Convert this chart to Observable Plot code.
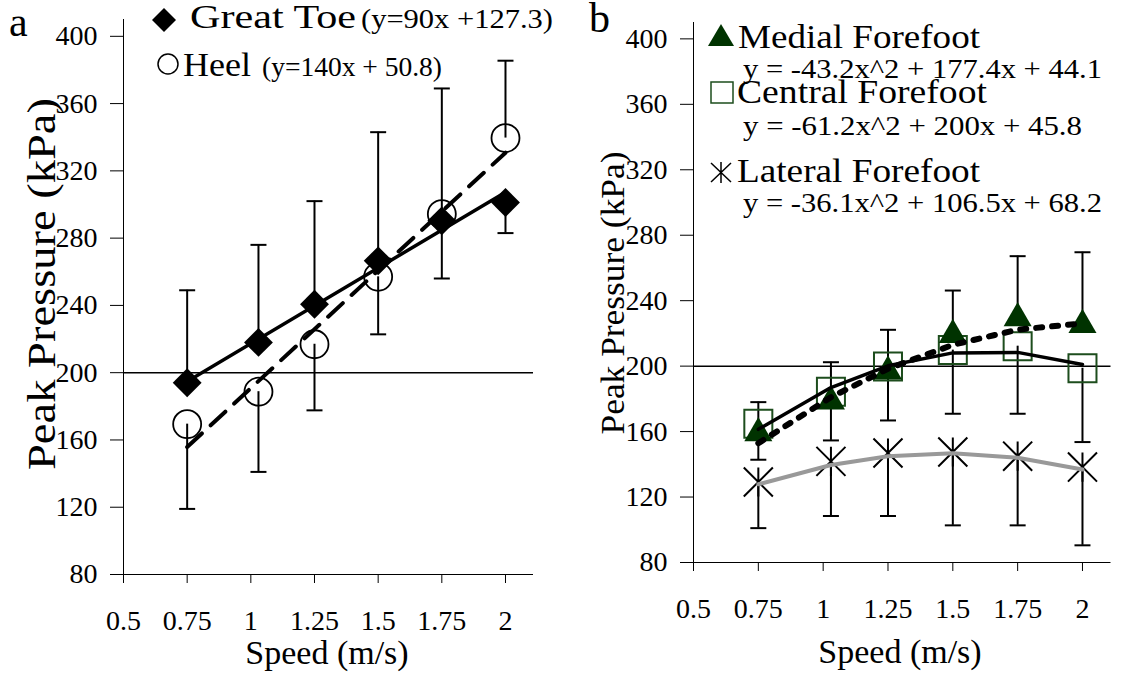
<!DOCTYPE html>
<html><head><meta charset="utf-8">
<script src="https://cdn.jsdelivr.net/npm/d3@7"></script>
<script src="https://cdn.jsdelivr.net/npm/@observablehq/plot@0.6"></script>
<style>
body{margin:0;background:#fff;}
#wrap{position:relative;width:1123px;height:675px;overflow:hidden;background:#fff;font-family:"Liberation Serif","Times New Roman",Times,"DejaVu Serif",serif;}
#wrap > svg{position:absolute;top:0;}
</style></head><body><div id="wrap"></div>
<script>
// ---------- data ----------
const speeds = [0.75, 1.03, 1.25, 1.5, 1.75, 2.0];
const xTicks = [0.5, 0.75, 1, 1.25, 1.5, 1.75, 2];
const yTicks = [80, 120, 160, 200, 240, 280, 320, 360, 400];

// panel a
const greatToe    = [194, 218, 240.7, 266.5, 290.3, 301.2];
const greatToeErr = [249, 276, 302, 343, 369, 283];
const heel        = [169.4, 188.7, 216.9, 257, 294.3, 339.5];
const heelErr     = [119, 141, 177.6, 222.8, 256, 385.5];
const trendSpeedsA  = [0.75, 2.0];
const greatToeTrend = [194.8, 307.3];
const heelTrend     = [155.8, 330.8];

// panel b
const medial      = [156.6, 176, 194.3, 216.7, 226.9, 222.8];
const medialErr   = [142.8, 154.6, 166.8, 246.2, 267.2, 269.6];
const central     = [164.8, 184.3, 199.8, 209.8, 212.2, 198.7];
const centralErr  = [178, 202.4, 222.2, 170.9, 170.9, 153.6];
const lateral     = [129.2, 141.8, 146.9, 147.5, 145, 138.3];
const lateralErr  = [101, 108.4, 108.4, 102.7, 102.7, 90.5];
const medialTrend  = [152.9, 181, 198.4, 213, 222.3, 226.1];
const centralTrend = [161.4, 186.9, 200.2, 208.1, 208.4, 201];
const lateralTrend = [127.8, 139.6, 144.9, 146.7, 144, 136.8];

// ---------- helpers ----------
const FONT = '"Liberation Serif","Times New Roman",Times,"DejaVu Serif",serif';
const rows = (xs, ys, errs) => xs.map((x, i) => ({x, y: ys[i], e: errs ? errs[i] : null}));
const capSym = {draw(ctx) { ctx.moveTo(-8, 0); ctx.lineTo(8, 0); }};
const starSym = {draw(ctx, size) {
  const r = Math.sqrt(size) / 2;
  ctx.moveTo(-r, -r); ctx.lineTo(r, r);
  ctx.moveTo(-r, r); ctx.lineTo(r, -r);
  ctx.moveTo(0, -r); ctx.lineTo(0, r);
}};

function errMarks(data) {
  return [
    Plot.ruleX(data, {x: "x", y1: "y", y2: "e", stroke: "#000", strokeWidth: 2}),
    Plot.dot(data, {x: "x", y: "e", symbol: capSym, r: 5, fill: "none", stroke: "#000", strokeWidth: 2})
  ];
}

function frame(opts, marks) {
  return Plot.plot({
    width: 560, height: 675,
    marginLeft: opts.ml, marginRight: opts.mr, marginTop: opts.mt, marginBottom: opts.mb,
    x: {type: "linear", domain: [0.5, 2.11]},
    y: {type: "linear", domain: [80, 410]},
    style: {fontFamily: FONT, fontSize: "28px", color: "#000", background: "transparent"},
    marks: [
      Plot.ruleY([200], {stroke: "#000", strokeWidth: 1.5}),
      Plot.ruleX([0.5], {stroke: "#000", strokeWidth: 1}),
      Plot.ruleY([80], {stroke: "#000", strokeWidth: 1}),
      Plot.axisX({ticks: xTicks, tickSize: 9, tickPadding: 27, tickFormat: d => String(d), label: null, fontSize: 28, fontFamily: FONT, strokeWidth: 1}),
      Plot.axisY({ticks: yTicks, tickSize: 13, tickPadding: 13, tickFormat: d => String(d), label: null, fontSize: 28, fontFamily: FONT, strokeWidth: 1}),
      ...marks
    ]
  });
}

const wrap = document.getElementById("wrap");

// ---------- panel a ----------
const toeD = rows(speeds, greatToe, greatToeErr);
const heelD = rows(speeds, heel, heelErr);
const svgA = frame({ml: 123, mr: 27, mt: 19, mb: 101}, [
  ...errMarks(toeD),
  ...errMarks(heelD),
  Plot.line(rows(trendSpeedsA, heelTrend), {x: "x", y: "y", stroke: "#000", strokeWidth: 4, strokeDasharray: "20,12"}),
  Plot.line(rows(trendSpeedsA, greatToeTrend), {x: "x", y: "y", stroke: "#000", strokeWidth: 3.5}),
  Plot.dot(heelD, {x: "x", y: "y", r: 14, fill: "none", stroke: "#000", strokeWidth: 1.8}),
  Plot.dot(toeD, {x: "x", y: "y", symbol: "diamond2", r: 13, fill: "#000", stroke: "none"})
]);
svgA.style.left = "0px";
wrap.appendChild(svgA);

// ---------- panel b ----------
const medD = rows(speeds, medial, medialErr);
const cenD = rows(speeds, central, centralErr);
const latD = rows(speeds, lateral, lateralErr);
const svgB = frame({ml: 130, mr: 12.5, mt: 22, mb: 113}, [
  ...errMarks(latD),
  ...errMarks(cenD),
  ...errMarks(medD),
  Plot.dot(cenD, {x: "x", y: "y", symbol: "square", r: 15.8, fill: "none", stroke: "#1d4d1d", strokeWidth: 2}),
  Plot.dot(medD, {x: "x", y: "y", symbol: "triangle", r: 10.4, dy: -4, fill: "#003300", stroke: "none"}),
  Plot.dot(latD, {x: "x", y: "y", symbol: starSym, r: 16.4, fill: "none", stroke: "#000", strokeWidth: 2}),
  Plot.line(rows(speeds, lateralTrend), {x: "x", y: "y", stroke: "#999", strokeWidth: 4}),
  Plot.line(rows(speeds, centralTrend), {x: "x", y: "y", stroke: "#000", strokeWidth: 3.5}),
  Plot.line(rows(speeds, medialTrend), {x: "x", y: "y", stroke: "#000", strokeWidth: 6, strokeDasharray: "6,10"})
]);
svgB.style.left = "563px";
wrap.appendChild(svgB);

// ---------- annotations: legends, titles ----------
const NS = "http://www.w3.org/2000/svg";
const ov = document.createElementNS(NS, "svg");
ov.setAttribute("width", 1123); ov.setAttribute("height", 675);
ov.style.position = "absolute"; ov.style.left = "0px"; ov.style.top = "0px";
ov.setAttribute("font-family", FONT);
wrap.appendChild(ov);
function txt(s, x, y, size, extra = {}) {
  const t = document.createElementNS(NS, "text");
  t.textContent = s;
  t.setAttribute("x", x); t.setAttribute("y", y);
  t.setAttribute("font-size", size);
  t.setAttribute("font-family", FONT);
  t.setAttribute("fill", "#000");
  for (const k in extra) t.setAttribute(k, extra[k]);
  ov.appendChild(t);
  return t;
}
function path(d, attrs) {
  const p = document.createElementNS(NS, "path");
  p.setAttribute("d", d);
  for (const k in attrs) p.setAttribute(k, attrs[k]);
  ov.appendChild(p);
}
const fit = w => ({textLength: w, lengthAdjust: "spacingAndGlyphs"});
// panel letters
txt("a", 9, 36, 42);
txt("b", 589, 32, 42);
// panel a legend
path("M164,8 L176,20 L164,32 L152,20 Z", {fill: "#000"});
txt("Great Toe", 190, 28, 34, fit(166));
txt("(y=90x +127.3)", 361, 28, 28, fit(192));
path("M178,64 A10,10 0 1,1 158,64 A10,10 0 1,1 178,64 Z", {fill: "none", stroke: "#000", "stroke-width": 1.5});
txt("Heel", 183, 76, 34, fit(68));
txt("(y=140x + 50.8)", 262, 76, 28, fit(180));
// panel b legend
path("M721,24 L734,46 L708,46 Z", {fill: "#003300"});
txt("Medial Forefoot", 738, 48, 34, fit(242));
txt("y = -43.2x^2 + 177.4x + 44.1", 743, 78, 28, fit(359));
path("M711,82 h22 v21 h-22 Z", {fill: "none", stroke: "#1d4d1d", "stroke-width": 1.5});
txt("Central Forefoot", 737, 103, 34, fit(250));
txt("y = -61.2x^2 + 200x + 45.8", 743, 135, 28, fit(339));
path("M711,163 L731,182 M711,182 L731,163 M721,162 L721,183", {fill: "none", stroke: "#000", "stroke-width": 1.5});
txt("Lateral Forefoot", 737, 182, 34, fit(243));
txt("y = -36.1x^2 + 106.5x + 68.2", 743, 212, 28, fit(359));
// axis titles
txt("Speed (m/s)", 327, 664, 34, {"text-anchor": "middle"});
txt("Speed (m/s)", 900, 663, 34, {"text-anchor": "middle"});
txt("Peak Pressure (kPa)", 0, 0, 40, {"text-anchor": "middle", transform: "translate(55,284) rotate(-90)", ...fit(372)});
txt("Peak Pressure (kPa)", 0, 0, 34, {"text-anchor": "middle", transform: "translate(624,293) rotate(-90)", ...fit(283)});
</script></body></html>
